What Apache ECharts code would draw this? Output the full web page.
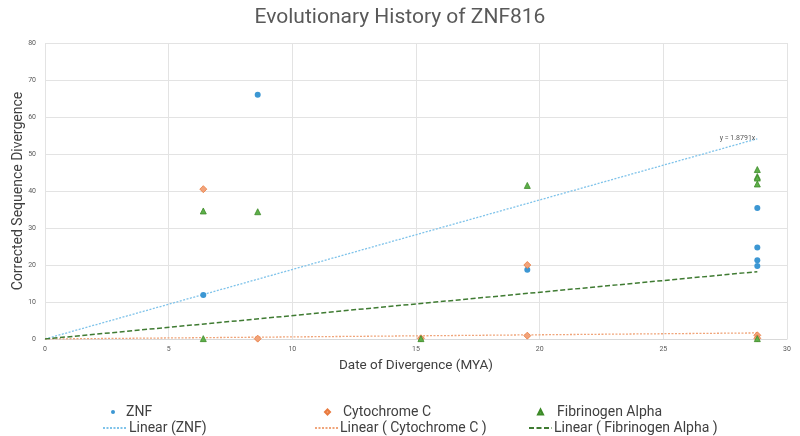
<!DOCTYPE html>
<html><head><meta charset="utf-8">
<script src="https://cdn.jsdelivr.net/npm/echarts@6/dist/echarts.min.js"></script>
<style>html,body{margin:0;padding:0;background:#fff}#c{width:800px;height:436px}</style>
</head><body><div id="c"></div>
<script>
// Data
const znf = [[6.4, 11.9], [8.6, 66.0], [19.5, 18.7], [28.8, 35.4], [28.8, 24.7], [28.8, 21.3], [28.8, 19.7]];
const cytochrome = [[6.4, 40.5], [8.6, 0.1], [15.2, 0.2], [19.5, 20.0], [19.5, 0.9], [28.8, 1.0], [28.8, 0.2]];
const fibrinogen = [[6.4, 34.6], [6.4, 0.1], [8.6, 34.4], [15.2, 0.1], [19.5, 41.5], [28.8, 45.8], [28.8, 43.9], [28.8, 43.5], [28.8, 41.9], [28.8, 0.1]];
// Trendline slopes (through origin) and x extent
const trendXs = [0, 28.8];
const slopeZnf = 1.8791, slopeCyto = 0.057, slopeFib = 0.632;
const xTicks = [0, 5, 10, 15, 20, 25, 30];
const yTicks = [0, 10, 20, 30, 40, 50, 60, 70, 80];

const FONT = 'Roboto, sans-serif';
const trend = (s) => trendXs.map(x => [x, +(s * x).toFixed(3)]);
const znfTrend = trend(slopeZnf).map((p, i) => i === 1 ? {value: p, label: {show: true, formatter: 'y = 1.8791x', position: 'left', distance: 2, offset: [0, -1], fontSize: 7, color: '#595959', fontFamily: FONT}} : p);

const chart = echarts.init(document.getElementById('c'), null, {renderer: 'canvas'});
const blue = '#3C97D3';
const txt = {fontSize: 14, color: '#404040', fontFamily: FONT};
const markerLegend = (name, icon, left, size, pad) => ({data: [{name: name, icon: icon}], left: left, top: 405, padding: 0,
  itemWidth: size, itemHeight: size, textStyle: Object.assign({}, txt, {padding: [0, 0, 0, pad]})});
const lineLegend = (name, left, pad) => ({data: [name], left: left, top: 421, padding: 0, itemWidth: 23, itemHeight: 8,
  itemStyle: {opacity: 0}, textStyle: Object.assign({}, txt, {padding: [0, 0, 0, pad]})});
chart.setOption({
  animation: false,
  title: {text: 'Evolutionary History of ZNF816', left: 'center', top: 7, padding: 0, textStyle: {fontSize: 21, fontWeight: 'normal', color: '#595959', fontFamily: FONT}},
  grid: {left: 45, right: 13, top: 43, bottom: 97, containLabel: false, outerBoundsMode: 'none'},
  xAxis: {type: 'value', min: xTicks[0], max: xTicks[xTicks.length - 1], interval: 5,
    name: 'Date of Divergence (MYA)', nameLocation: 'middle', nameGap: 20, nameMoveOverlap: false,
    nameTextStyle: {fontSize: 13.5, color: '#404040', fontFamily: FONT},
    axisLine: {show: true, lineStyle: {color: '#D9D9D9'}}, axisTick: {show: false},
    axisLabel: {fontSize: 7, color: '#595959', margin: 7, fontFamily: FONT},
    splitLine: {show: true, lineStyle: {color: '#E3E3E3'}}},
  yAxis: {type: 'value', min: yTicks[0], max: yTicks[yTicks.length - 1], interval: 10,
    name: 'Corrected Sequence Divergence', nameLocation: 'middle', nameGap: 20, nameMoveOverlap: false,
    nameTextStyle: {fontSize: 14, color: '#404040', fontFamily: FONT},
    axisLine: {show: false}, axisTick: {show: false},
    axisLabel: {fontSize: 7, color: '#595959', margin: 9, fontFamily: FONT},
    splitLine: {show: true, lineStyle: {color: '#E3E3E3'}}},
  legend: [
    markerLegend('ZNF', 'circle', 111, 4, 6),
    markerLegend('Cytochrome C', 'diamond', 324, 5, 8),
    markerLegend('Fibrinogen Alpha', 'triangle', 537, 5, 9),
    lineLegend('Linear (ZNF)', 102, -2),
    lineLegend('Linear ( Cytochrome C )', 314, -3),
    lineLegend('Linear ( Fibrinogen Alpha )', 528, -3)
  ],
  series: [
    {name: 'Linear (ZNF)', type: 'line', data: znfTrend, symbol: 'circle', symbolSize: 0, showSymbol: true, z: 1,
      lineStyle: {color: '#7FC3EA', width: 1.3, type: [2, 1.5]}, itemStyle: {color: '#7FC3EA'}},
    {name: 'Linear ( Cytochrome C )', type: 'line', data: trend(slopeCyto), symbol: 'none', z: 1,
      lineStyle: {color: '#F0A57A', width: 1.3, type: [2, 1.5]}, itemStyle: {color: '#F0A57A'}},
    {name: 'Linear ( Fibrinogen Alpha )', type: 'line', data: trend(slopeFib), symbol: 'none', z: 1,
      lineStyle: {color: '#3F7B32', width: 1.5, type: [5, 2.5]}, itemStyle: {color: '#3F7B32'}},
    {name: 'ZNF', type: 'scatter', data: znf, symbol: 'circle', symbolSize: 6, z: 3,
      itemStyle: {color: blue, opacity: 1}},
    {name: 'Cytochrome C', type: 'scatter', data: cytochrome, symbol: 'diamond', symbolSize: 7, z: 3,
      itemStyle: {color: '#F2A37A', borderColor: '#E97A3E', borderWidth: 0.8, opacity: 1}},
    {name: 'Fibrinogen Alpha', type: 'scatter', data: fibrinogen, symbol: 'triangle', symbolSize: 6, z: 3,
      itemStyle: {color: '#5DB04A', borderColor: '#3D8A28', borderWidth: 0.8, opacity: 1}}
  ]
});
</script></body></html>
